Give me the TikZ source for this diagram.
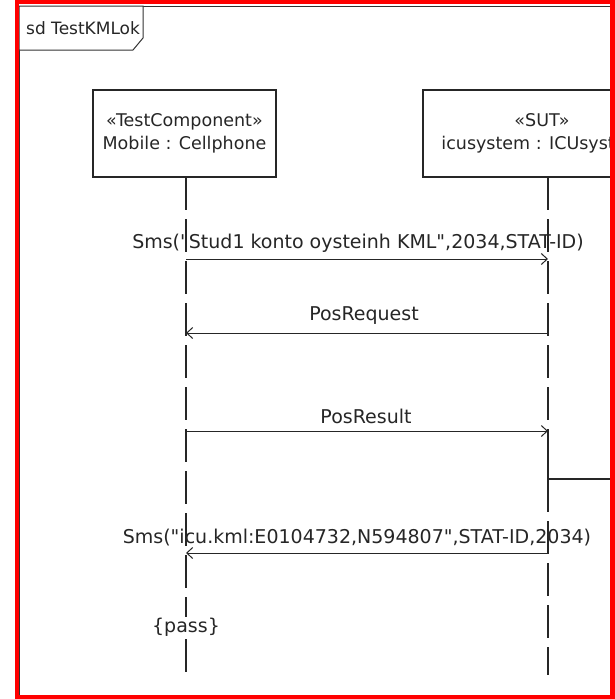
\documentclass[tikz,border=0pt]{standalone}
\usepackage{fontspec}
\setmainfont{DejaVu Sans}[Ligatures=TeXOff]
\usetikzlibrary{arrows.meta}
\begin{document}
\begin{tikzpicture}[x=1pt,y=-1pt,
  lbl/.style={font=\fontsize{19}{21}\selectfont, text=black!85, inner sep=0pt},
  lifebox/.style={draw=black!85, line width=1.2pt, fill=white},
  lifeline/.style={draw=black!85, line width=1.2pt, dash pattern=on 33pt off 9pt},
  msg/.style={draw=black!85, line width=1pt, -{Straight Barb[length=6pt,width=11pt]}}]
\useasboundingbox (0,0) rectangle (615,699);
\fill[white] (0,0) rectangle (615,699);
% frame
\draw[black!80, line width=1pt] (19,6) rectangle (640,695);
\draw[black!80, line width=1pt, fill=white] (19,6) -- (143,6) -- (143,38) -- (133,50) -- (19,50) -- cycle;
\node[lbl, font=\fontsize{17}{19}\selectfont, anchor=west] (title) at (26,28) {sd TestKMLok};
% lifeline heads
\draw[lifebox] (93,90) rectangle (276,177);
\node[lbl, font=\fontsize{17.5}{23}\selectfont, align=center] (mob) at (184.5,133) {«TestComponent»\\Mobile : Cellphone};
\begin{scope}
\clip (0,0) rectangle (612,699);
\draw[lifebox] (423,90) rectangle (680,177);
\node[lbl, font=\fontsize{17.5}{23}\selectfont, align=center] (sut) at (542,133) {«SUT»\\icusystem : ICUsystem};
\end{scope}
% lifelines
\coordinate (mtop) at (186,177);
\coordinate (mbot) at (186,675);
\coordinate (stop) at (548,177);
\coordinate (sact) at (548,440);
\coordinate (sbot) at (548,675);
\draw[lifeline] (mtop) -- (mbot);
\draw[lifeline] (stop) -- (sact);
\draw[draw=black!85, line width=1.2pt] (548,440) -- (548,479) -- (612,479);
\draw[lifeline] (548,479) -- (sbot);
% messages
\coordinate (m1a) at (186,259); \coordinate (m1b) at (548,259);
\coordinate (m2a) at (548,333); \coordinate (m2b) at (186,333);
\coordinate (m3a) at (186,431); \coordinate (m3b) at (548,431);
\coordinate (m4a) at (548,553); \coordinate (m4b) at (186,553);
\draw[msg] (m1a) -- (m1b);
\draw[msg] (m2a) -- (m2b);
\draw[msg] (m3a) -- (m3b);
\draw[msg] (m4a) -- (m4b);
\node[lbl] (t1) at (358,243) {Sms("Stud1 konto oysteinh KML",2034,STAT-ID)};
\node[lbl] (t2) at (364,316) {PosRequest};
\node[lbl] (t3) at (366,416) {PosResult};
\node[lbl] (t4) at (357,538) {Sms("icu.kml:E0104732,N594807",STAT-ID,2034)};
\node[lbl, fill=white, inner sep=1pt] (pass) at (186,627) {\{pass\}};
% red border
\draw[red, line width=4.5pt] (17,2.2) rectangle (612.5,697);
\end{tikzpicture}
\end{document}
